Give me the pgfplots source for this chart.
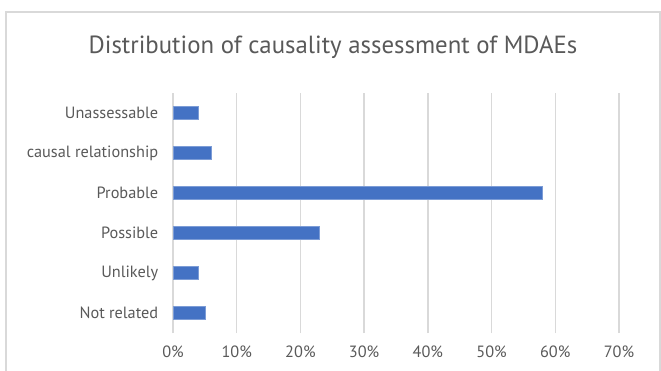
\documentclass[border=0pt]{standalone}
\usepackage{pgfplots}
\pgfplotsset{compat=1.18}
\usepackage{fontspec}
\setmainfont{PT Sans}
\definecolor{barc}{HTML}{4472C4}
\definecolor{gridc}{HTML}{D9D9D9}
\definecolor{txt}{HTML}{595959}
\begin{document}
\begin{tikzpicture}
\useasboundingbox (0bp,0bp) rectangle (661bp,371bp);
\draw[gridc, line width=2bp] (6bp,-5bp) -- (6bp,359bp) -- (660bp,359bp) -- (660bp,-5bp);
\node[txt, font=\fontsize{24.8bp}{28bp}\selectfont] at (333bp,323.5bp) {Distribution of causality assessment of MDAEs};
\begin{axis}[at={(173bp,38bp)}, anchor=south west, scale only axis,
  width=446bp, height=240bp, xmin=0, xmax=70, ymin=-0.5, ymax=5.5,
  xbar, bar width=13.5bp,
  axis line style={draw=none}, tick style={draw=none},
  xmajorgrids, major grid style={gridc, line width=1.3bp},
  xtick={0,10,...,70}, xticklabel={\pgfmathprintnumber{\tick}\%},
  ytick={0,...,5},
  yticklabels={Not related,Unlikely,Possible,Probable,causal relationship,Unassessable},
  ticklabel style={txt, font=\fontsize{16.3bp}{19bp}\selectfont},
  yticklabel style={xshift=-7bp},
  xticklabel style={yshift=-9bp},
  /pgf/number format/assume math mode=true]
\addplot[fill=barc, draw=barc!70!white, line width=0.6bp] coordinates {(5,0) (4,1) (23,2) (58,3) (6,4) (4,5)};
\end{axis}
\end{tikzpicture}
\end{document}
